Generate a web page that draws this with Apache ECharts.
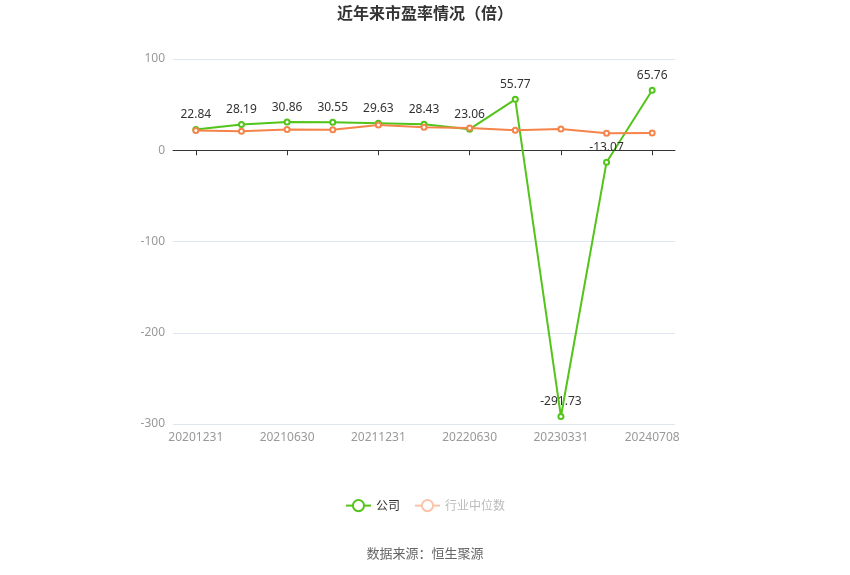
<!DOCTYPE html>
<html>
<head>
<meta charset="utf-8">
<script src="https://cdn.jsdelivr.net/npm/echarts@6/dist/echarts.min.js"></script>
<style>html,body{margin:0;padding:0;background:#fff}#c{width:850px;height:575px}</style>
</head>
<body>
<div id="c"></div>
<script>
const categories = ['20201231','20210331','20210630','20210930','20211231','20220331','20220630','20221231','20230331','20231231','20240708'];
const companyPE = [22.84, 28.19, 30.86, 30.55, 29.63, 28.43, 23.06, 55.77, -291.73, -13.07, 65.76];
const industryPE = [21.6, 20.9, 22.7, 22.4, 27.8, 25.3, 24.5, 22.0, 23.4, 18.7, 19.0];
const yTicks = {min: -300, max: 100, interval: 100};

const chart = echarts.init(document.getElementById('c'));
chart.setOption({
  animation: false,
  title: [
    {text: '近年来市盈率情况（倍）', left: 'center', top: 0,
     textStyle: {fontSize: 16, fontWeight: 'bold', color: '#333', fontFamily: 'Noto Sans CJK SC'}},
    {text: '数据来源：恒生聚源', left: 'center', top: 542,
     textStyle: {fontSize: 13, fontWeight: 'normal', color: '#666', fontFamily: 'Noto Sans CJK SC'}}
  ],
  legend: {
    top: 494, left: 'center', itemWidth: 25, itemHeight: 14, itemGap: 14,
    textStyle: {fontSize: 12, color: '#333', fontFamily: 'Noto Sans CJK SC'},
    data: [
      {name: '公司'},
      {name: '行业中位数', textStyle: {color: '#bbb'},
       itemStyle: {color: '#fcc3a8', borderColor: '#fcc3a8'},
       lineStyle: {color: '#fcc3a8'}}
    ]
  },
  grid: {left: 173, right: 175, top: 59, bottom: 151, containLabel: false},
  xAxis: [
    {type: 'category', data: categories, boundaryGap: true,
     axisLine: {onZero: true, lineStyle: {color: '#333'}},
     axisTick: {show: true, alignWithLabel: true, interval: 1, lineStyle: {color: '#333'}},
     axisLabel: {show: false, interval: 1}},
    {type: 'category', data: categories, boundaryGap: true, position: 'bottom',
     axisLine: {show: false}, axisTick: {show: false},
     axisLabel: {show: true, interval: 1, color: '#999', fontSize: 12, margin: 8, fontFamily: 'Noto Sans'}}
  ],
  yAxis: {
    type: 'value', min: yTicks.min, max: yTicks.max, interval: yTicks.interval,
    axisLine: {show: false}, axisTick: {show: false},
    axisLabel: {color: '#999', fontSize: 12, fontFamily: 'Noto Sans', margin: 8},
    splitLine: {lineStyle: {color: '#e0e6f1'}}
  },
  series: [
    {name: '公司', type: 'line', xAxisIndex: 0, data: companyPE,
     symbol: 'emptyCircle', symbolSize: 5,
     itemStyle: {color: '#52c41a'}, lineStyle: {width: 2, color: '#52c41a'},
     label: {show: true, position: 'top', color: '#333', fontSize: 12, fontFamily: 'Noto Sans', distance: 5}},
    {name: '行业中位数', type: 'line', xAxisIndex: 0, data: industryPE,
     symbol: 'emptyCircle', symbolSize: 5,
     itemStyle: {color: '#f5844a'}, lineStyle: {width: 2, color: '#f5844a'}}
  ]
});
</script>
</body>
</html>
